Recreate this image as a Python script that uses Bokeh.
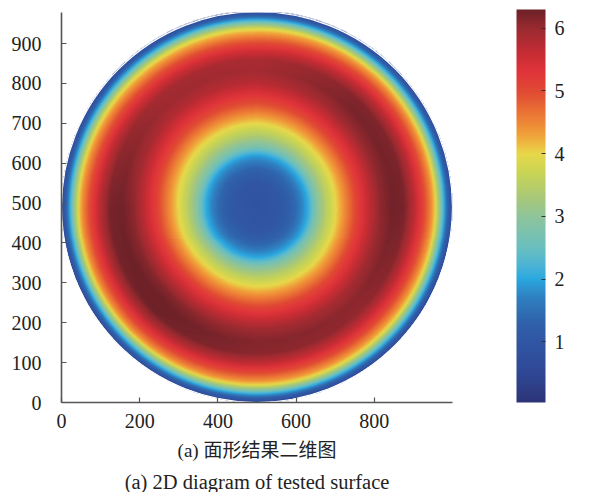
import numpy as np
from bokeh.plotting import figure
from bokeh.models import (LinearColorMapper, ColorBar, FixedTicker, Title, Range1d)
from bokeh.embed import file_html
from bokeh.resources import INLINE

# ---- data ----
# radial profile of the surface (normalised radius -> value)
radius_norm = [0.0, 0.12, 0.20, 0.26, 0.31, 0.36, 0.41, 0.47, 0.52, 0.58,
               0.63, 0.69, 0.75, 0.80, 0.85, 0.89, 0.91, 0.935, 0.955, 0.975, 1.0]
profile_val = [0.9, 1.0, 1.4, 2.0, 2.9, 3.5, 4.0, 4.6, 5.1, 5.6,
               5.95, 6.15, 6.1, 5.65, 5.0, 4.4, 4.0, 3.0, 2.1, 1.3, 0.6]
# angular variation of the ring (degrees -> factor)
angle_deg = [0, 45, 90, 135, 180, 225, 270, 315, 360]
angle_factor = [1.02, 1.01, 0.96, 0.97, 1.02, 1.03, 1.0, 0.99, 1.02]
# surface extent
x_extent = [0, 1000]
y_extent = [0, 980]
x_ticks = [0, 200, 400, 600, 800]
y_ticks = [0, 100, 200, 300, 400, 500, 600, 700, 800, 900]
cbar_ticks = [1, 2, 3, 4, 5, 6]
cbar_low, cbar_high = 0.03, 6.3
caption_cn = "(a) 面形结果二维图"
caption_en = "(a) 2D diagram of tested surface"

# ---- colour palette (style) ----
anchors = [(0.03, "#2d3578"), (0.5, "#2f4896"), (1.0, "#3056a4"), (1.3, "#2f62aa"),
           (1.7, "#2f80c0"), (2.0, "#2aa8e0"), (2.2, "#4ab3d6"), (2.5, "#6abfbf"),
           (3.0, "#8ec49a"), (3.3, "#a8c878"), (3.7, "#c8d454"), (4.0, "#e8d84a"),
           (4.3, "#f0a23a"), (4.6, "#ec7a35"), (5.0, "#e04a33"), (5.3, "#e0353a"),
           (5.6, "#c82c34"), (6.0, "#9a2a30"), (6.3, "#6e2228")]
av = np.array([a[0] for a in anchors])
ac = np.array([[int(c[1:3], 16), int(c[3:5], 16), int(c[5:7], 16)] for _, c in anchors], float)
vals = np.linspace(cbar_low, cbar_high, 256)
palette = ["#%02x%02x%02x" % tuple(int(round(np.interp(v, av, ac[:, k]))) for k in range(3))
           for v in vals]

# ---- build surface grid from the profile ----
nx, ny = 391, 392
dw = x_extent[1] - x_extent[0]
dh = y_extent[1] - y_extent[0]
xs = x_extent[0] + (np.arange(nx) + 0.5) * dw / nx
ys = y_extent[0] + (np.arange(ny) + 0.5) * dh / ny
X, Y = np.meshgrid(xs, ys)
cx, cy = x_extent[0] + dw / 2, y_extent[0] + dh / 2
R = np.sqrt(((X - cx) / (dw / 2)) ** 2 + ((Y - cy) / (dh / 2)) ** 2)
TH = np.degrees(np.arctan2(Y - cy, X - cx)) % 360
Z = np.interp(R, radius_norm, profile_val) * np.interp(TH, angle_deg, angle_factor)
Z[R > 1.0] = np.nan

mapper = LinearColorMapper(palette=palette, low=cbar_low, high=cbar_high,
                           nan_color="rgba(0, 0, 0, 0)")

serif = "Liberation Serif, Noto Sans CJK SC"

p = figure(width=575, height=492, output_backend="svg", toolbar_location=None,
           x_range=Range1d(0, 1000), y_range=Range1d(0, 978),
           min_border_left=61, min_border_right=123, min_border_top=12,
           min_border_bottom=89)
p.outline_line_color = None
p.grid.visible = False

p.image(image=[Z], x=x_extent[0], y=y_extent[0], dw=dw, dh=dh, color_mapper=mapper)
# soften the rim of the disc
p.ellipse(x=cx, y=cy, width=dw, height=dh, fill_color=None,
          line_color="white", line_width=1.2)

for ax, ticks in ((p.xaxis, x_ticks), (p.yaxis, y_ticks)):
    ax.ticker = FixedTicker(ticks=ticks)
    ax.axis_line_color = "#555555"
    ax.axis_line_width = 1.6
    ax.major_tick_line_color = "#555555"
    ax.major_tick_line_width = 1.2
    ax.major_tick_in = 5
    ax.major_tick_out = 0
    ax.minor_tick_line_color = None
    ax.major_label_text_font = serif
    ax.major_label_text_font_size = "20px"
    ax.major_label_text_color = "#222222"
p.yaxis.major_label_standoff = 20
p.xaxis.major_label_standoff = 11

cb = ColorBar(color_mapper=mapper, ticker=FixedTicker(ticks=cbar_ticks),
              width=29, height=393, location=(455, 0), margin=0, padding=0,
              major_tick_in=4, major_tick_out=0, major_tick_line_color="#333333",
              major_label_text_font=serif, major_label_text_font_size="20px",
              major_label_text_color="#222222", label_standoff=9,
              bar_line_color=None, border_line_color=None, background_fill_alpha=0)
p.add_layout(cb, "center")

p.add_layout(Title(text=caption_cn, align="center", text_font=serif,
                   text_font_size="19px", text_font_style="normal",
                   text_color="#222222", standoff=15), "below")
p.add_layout(Title(text=caption_en, align="center", text_font=serif,
                   text_font_size="20.5px", text_font_style="normal",
                   text_color="#222222", standoff=0), "below")

open("out.html", "w").write(file_html(p, INLINE))
